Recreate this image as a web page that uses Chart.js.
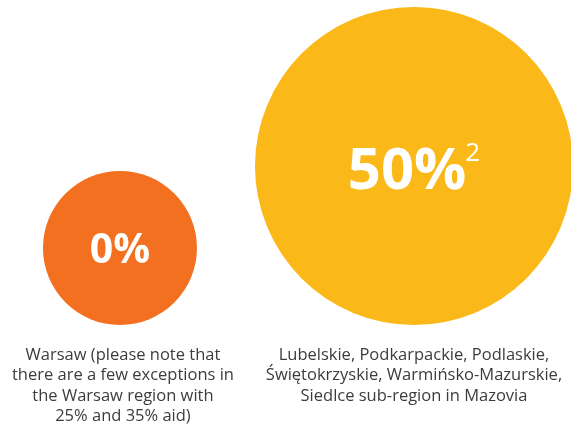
<!DOCTYPE html>
<html>
<head>
<meta charset="utf-8">
<script src="https://cdn.jsdelivr.net/npm/chart.js@4.4.0/dist/chart.umd.min.js"></script>
<style>
  html, body { margin: 0; padding: 0; background: #fff; }
  #wrap { width: 571px; height: 428px; }
</style>
</head>
<body>
<div id="wrap"><canvas id="myChart" width="571" height="428"></canvas></div>
<script>
// data
var regions = ['Warsaw', 'Eastern regions'];
var aidValues = [0, 50];
var footnotes = ['', '2'];
var captions = [
  ['Warsaw (please note that', 'there are a few exceptions in', 'the Warsaw region with', '25% and 35% aid)'],
  ['Lubelskie, Podkarpackie, Podlaskie,', 'Świętokrzyskie, Warmińsko-Mazurskie,', 'Siedlce sub-region in Mazovia']
];
var colors = ['#f37021', '#fbb819'];

// bubble size grows with aid level, all bubbles sit on the same baseline
function bubbleRadius(v) { return 77 + v * 1.64; }

var points = [];
for (var i = 0; i < aidValues.length; i++) {
  var r = bubbleRadius(aidValues[i]);
  points.push({ x: i, y: r, r: r });
}

var labelPlugin = {
  id: 'bubbleLabels',
  afterDatasetsDraw: function (chart) {
    var ctx = chart.ctx;
    var meta = chart.getDatasetMeta(0);
    var area = chart.chartArea;
    ctx.save();
    meta.data.forEach(function (el, i) {
      var big = aidValues[i] > 0;
      var size = big ? 58 : 41;
      var txt = aidValues[i] + '%';
      ctx.font = 'bold ' + size + 'px "Open Sans"';
      var w = ctx.measureText(txt).width;
      var supSize = 26;
      var supW = 0;
      if (footnotes[i]) {
        ctx.font = supSize + 'px "Open Sans"';
        supW = ctx.measureText(footnotes[i]).width - 1;
      }
      var left = el.x - (w + supW) / 2;
      var base = el.y + size * 0.36 + (big ? 2 : 0);
      ctx.fillStyle = '#ffffff';
      ctx.textAlign = 'left';
      ctx.textBaseline = 'alphabetic';
      ctx.font = 'bold ' + size + 'px "Open Sans"';
      ctx.fillText(txt, left, base);
      if (footnotes[i]) {
        ctx.font = supSize + 'px "Open Sans"';
        ctx.fillText(footnotes[i], left + w - 1, base - 28);
      }
      // caption under the bubble
      ctx.fillStyle = '#3c3c3b';
      ctx.font = '16.5px "Open Sans"';
      ctx.textAlign = 'center';
      ctx.textBaseline = 'middle';
      captions[i].forEach(function (line, k) {
        ctx.fillText(line, el.x + (i === 0 ? 3 : 0), area.bottom + 30 + k * 20.5);
      });
    });
    ctx.restore();
  }
};

new Chart(document.getElementById('myChart'), {
  type: 'bubble',
  data: {
    labels: regions,
    datasets: [{
      data: points,
      backgroundColor: colors,
      borderWidth: 0,
      hoverBorderWidth: 0,
      clip: false
    }]
  },
  options: {
    responsive: false,
    animation: false,
    devicePixelRatio: 1,
    layout: { autoPadding: false, padding: { top: 0, bottom: 103, left: 0, right: 0 } },
    plugins: { legend: { display: false }, tooltip: { enabled: false } },
    scales: {
      x: { type: 'linear', display: false, min: -0.408, max: 1.534 },
      y: { type: 'linear', display: false, min: 0, max: 325 }
    }
  },
  plugins: [labelPlugin]
});
</script>
</body>
</html>
